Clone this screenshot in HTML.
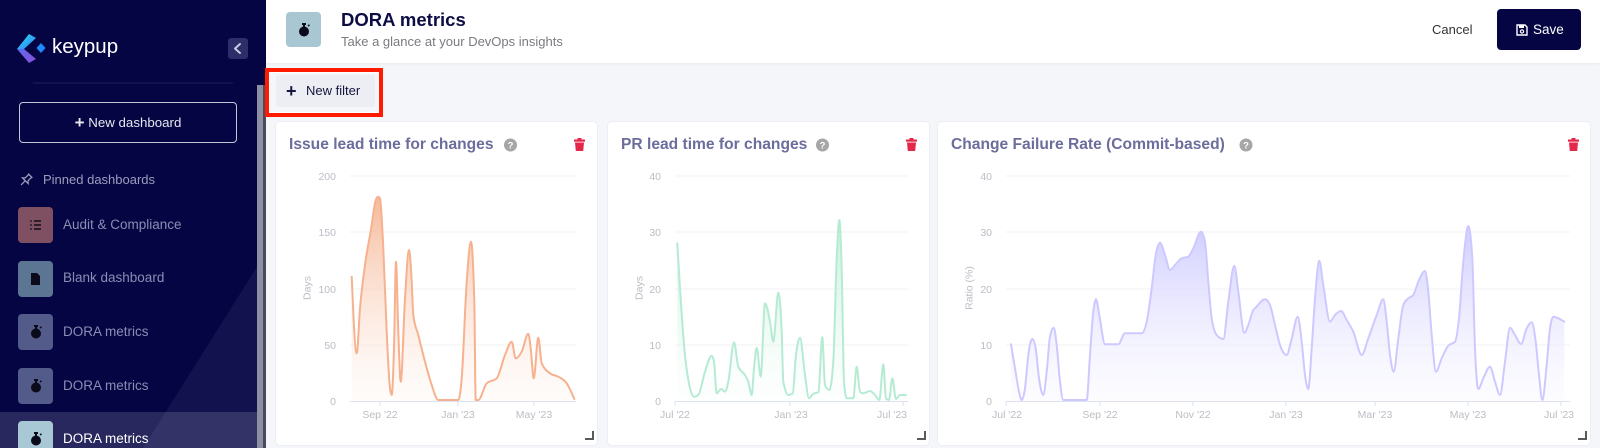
<!DOCTYPE html>
<html><head><meta charset="utf-8">
<style>
*{margin:0;padding:0;box-sizing:border-box}
html,body{width:1600px;height:448px;overflow:hidden;background:#f5f6f9;font-family:"Liberation Sans",Arial,sans-serif}
.abs{position:absolute}
#side{left:0;top:0;width:266px;height:448px;background:#050544;overflow:hidden}
.item{position:absolute;left:63px;font-size:13.5px;color:#8b8db3;white-space:nowrap;line-height:16px}
.ibox{position:absolute;left:18px;width:35px;height:36px;border-radius:4px}
.card{position:absolute;top:122px;height:323px;background:#fff;border-radius:4px;box-shadow:0 0 0 1px #eceef3}
.ctitle{position:absolute;top:135px;height:20px;line-height:20px;font-size:15.6px;font-weight:bold;color:#6c6d9c;white-space:nowrap}
.handle{position:absolute;width:9px;height:9px;border-right:2px solid #5a5a5a;border-bottom:2px solid #5a5a5a}
</style></head><body>

<div id="side" class="abs">
  <svg class="abs" style="left:0;top:0" width="266" height="448">
    <polygon points="257,267 257,448 143,448" fill="#ffffff" fill-opacity="0.055"/>
    <rect x="0" y="412" width="257" height="36" fill="#ffffff" fill-opacity="0.14"/>
    <rect x="257" y="85" width="6" height="363" fill="#8f8fa3"/>
    <rect x="263" y="85" width="3" height="363" fill="#4a4a5c"/>
    <line x1="33" y1="83" x2="233" y2="83" stroke="#1d1e5c" stroke-width="1"/>
    <defs>
      <linearGradient id="lg1" x1="0" y1="0" x2="1" y2="1"><stop offset="0" stop-color="#32e0f0"/><stop offset="1" stop-color="#2a7cf5"/></linearGradient>
      <linearGradient id="lg2" x1="0" y1="0" x2="1" y2="1"><stop offset="0" stop-color="#5b6cf0"/><stop offset="1" stop-color="#8a4fd8"/></linearGradient>
    </defs>
    <polygon points="29,34 36,38 24,49 17,49" fill="url(#lg1)"/>
    <polygon points="17,49 24,49 36,59 29,63" fill="url(#lg2)"/>
    <polygon points="41,43 45.5,48 41,53 36.5,48" fill="#1e8cff"/>
    <rect x="228" y="38" width="20" height="21" rx="3" fill="#2c2e6a"/>
    <polyline points="240,44 235,48.5 240,53" fill="none" stroke="#c9cadf" stroke-width="2" stroke-linecap="round" stroke-linejoin="round"/>
    <g transform="translate(26,180) rotate(45)" fill="none" stroke="#9a9bba" stroke-width="1.3">
      <path d="M-3,-6 L3,-6 M-2,-6 L-2,-1 L-4,1 L4,1 L2,-1 L2,-6 M0,1 L0,7"/>
    </g>
  </svg>
  <div class="abs" style="left:52px;top:35px;font-size:20.5px;color:#fff;line-height:24px">keypup</div>
  <div class="abs" style="left:19px;top:102px;width:218px;height:41px;border:1.5px solid #c5c6d4;border-radius:4px;color:#e6e6ef;font-size:13.3px;line-height:38px;text-align:center"><span style="font-size:17px;font-weight:bold;position:relative;top:1px">+</span>&nbsp;New dashboard</div>
  <div class="item" style="left:43px;top:172px;color:#9c9dbc;font-size:13px">Pinned dashboards</div>

  <div class="ibox" style="top:207px;background:#7f5062"></div>
  <svg class="abs" style="left:30px;top:219px" width="12" height="12"><g stroke="#1a1020" stroke-width="1.6"><line x1="4" y1="2" x2="11" y2="2"/><line x1="4" y1="6" x2="11" y2="6"/><line x1="4" y1="10" x2="11" y2="10"/></g><g stroke="#1a1020" stroke-width="1.2"><line x1="0" y1="2" x2="2" y2="2"/><line x1="0" y1="6" x2="2" y2="6"/><line x1="0" y1="10" x2="2" y2="10"/></g></svg>
  <div class="item" style="top:217px">Audit &amp; Compliance</div>

  <div class="ibox" style="top:261px;background:#5b7592"></div>
  <svg class="abs" style="left:31px;top:273px" width="10" height="12"><path d="M0,0 H6 L9,3 V12 H0 Z" fill="#0a0a1a"/></svg>
  <div class="item" style="top:270px">Blank dashboard</div>

  <div class="ibox" style="top:314px;background:#525b89"></div>
  <svg class="abs" style="left:30px;top:325px" width="12" height="14"><rect x="4" y="0" width="4" height="2" fill="#0a0a1a"/><rect x="5" y="1" width="2" height="3" fill="#0a0a1a"/><circle cx="6" cy="8.5" r="5" fill="#0a0a1a"/><line x1="10" y1="3" x2="11.5" y2="1.8" stroke="#0a0a1a" stroke-width="1.5"/></svg>
  <div class="item" style="top:324px">DORA metrics</div>

  <div class="ibox" style="top:368px;background:#525b89"></div>
  <svg class="abs" style="left:30px;top:379px" width="12" height="14"><rect x="4" y="0" width="4" height="2" fill="#0a0a1a"/><rect x="5" y="1" width="2" height="3" fill="#0a0a1a"/><circle cx="6" cy="8.5" r="5" fill="#0a0a1a"/><line x1="10" y1="3" x2="11.5" y2="1.8" stroke="#0a0a1a" stroke-width="1.5"/></svg>
  <div class="item" style="top:378px">DORA metrics</div>

  <div class="ibox" style="top:421px;background:#a9c8d6"></div>
  <svg class="abs" style="left:30px;top:432px" width="12" height="14"><rect x="4" y="0" width="4" height="2" fill="#0a0a1a"/><rect x="5" y="1" width="2" height="3" fill="#0a0a1a"/><circle cx="6" cy="8.5" r="5" fill="#0a0a1a"/><line x1="10" y1="3" x2="11.5" y2="1.8" stroke="#0a0a1a" stroke-width="1.5"/></svg>
  <div class="item" style="top:431px;color:#ffffff">DORA metrics</div>
</div>

<div class="abs" style="left:266px;top:0;width:1334px;height:63px;background:#fff;box-shadow:0 1px 3px rgba(0,0,0,0.06)"></div>
<div class="abs" style="left:286px;top:12px;width:35px;height:35px;background:#a9c6d3;border-radius:4px"></div>
<svg class="abs" style="left:298px;top:23px" width="12" height="14"><rect x="4" y="0" width="4" height="2" fill="#0a0a1a"/><rect x="5" y="1" width="2" height="3" fill="#0a0a1a"/><circle cx="6" cy="8.5" r="5" fill="#0a0a1a"/><line x1="10" y1="3" x2="11.5" y2="1.8" stroke="#0a0a1a" stroke-width="1.5"/></svg>
<div class="abs" style="left:341px;top:9px;font-size:18.5px;font-weight:bold;color:#0d0d45;line-height:22px">DORA metrics</div>
<div class="abs" style="left:341px;top:34px;font-size:13px;color:#7a7a80;line-height:16px">Take a glance at your DevOps insights</div>
<div class="abs" style="left:1432px;top:22px;font-size:13px;color:#333338;line-height:16px">Cancel</div>
<div class="abs" style="left:1497px;top:9px;width:84px;height:41px;background:#050544;border-radius:4px"></div>
<svg class="abs" style="left:1516px;top:24px" width="12" height="12"><path d="M1,1 H9 L11,3 V11 H1 Z" fill="none" stroke="#fff" stroke-width="1.4"/><rect x="3" y="1" width="5" height="3" fill="#fff"/><circle cx="6" cy="7.5" r="1.6" fill="none" stroke="#fff" stroke-width="1.2"/></svg>
<div class="abs" style="left:1533px;top:22px;font-size:13.5px;color:#fff;line-height:16px">Save</div>

<div class="abs" style="left:276px;top:75px;width:99px;height:32px;background:#eceef3;border-radius:3px"></div>
<div class="abs" style="left:286px;top:81px;font-size:18px;font-weight:bold;color:#15153f;line-height:20px">+</div>
<div class="abs" style="left:306px;top:83px;font-size:13px;color:#15153f;line-height:16px">New filter</div>
<div class="abs" style="left:265px;top:68px;width:118px;height:49px;border:4px solid #ff1a00;box-shadow:inset 0 0 0 1px #fff"></div>

<div class="card" style="left:276px;width:321px"></div>
<div class="card" style="left:608px;width:321px"></div>
<div class="card" style="left:938px;width:652px"></div>
<div class="ctitle" style="left:289px">Issue lead time for changes</div>
<div class="ctitle" style="left:621px">PR lead time for changes</div>
<div class="ctitle" style="left:951px">Change Failure Rate (Commit-based)</div>
<div class="handle" style="left:585px;top:431px"></div>
<div class="handle" style="left:917px;top:431px"></div>
<div class="handle" style="left:1578px;top:431px"></div>

<svg class="abs" style="left:0;top:0" width="1600" height="448">
  <defs>
    <linearGradient id="gO" gradientUnits="userSpaceOnUse" x1="0" y1="190" x2="0" y2="401"><stop offset="0" stop-color="#f5ae88" stop-opacity="0.9"/><stop offset="1" stop-color="#fde9de" stop-opacity="0.15"/></linearGradient>
    <linearGradient id="gG" gradientUnits="userSpaceOnUse" x1="0" y1="215" x2="0" y2="401"><stop offset="0" stop-color="#b8edd5" stop-opacity="0.9"/><stop offset="1" stop-color="#eefaf4" stop-opacity="0.1"/></linearGradient>
    <linearGradient id="gP" gradientUnits="userSpaceOnUse" x1="0" y1="226" x2="0" y2="401"><stop offset="0" stop-color="#d0cdff" stop-opacity="1"/><stop offset="1" stop-color="#f6f5ff" stop-opacity="0.3"/></linearGradient>
    <g id="trash"><rect x="0" y="1.5" width="11" height="2.2" fill="#e4284b"/><rect x="3.5" y="0" width="4" height="2" fill="#e4284b"/><path d="M1,4.5 H10 L9.2,13 H1.8 Z" fill="#e4284b"/></g>
    <g id="help"><circle cx="0" cy="0" r="6.5" fill="#a6a6a6"/><text x="0" y="3.3" font-size="9.5" font-weight="bold" fill="#fff" text-anchor="middle" font-family="Liberation Sans, sans-serif">?</text></g>
  </defs>

  <use href="#trash" x="574" y="138"/>
  <use href="#trash" x="906" y="138"/>
  <use href="#trash" x="1568" y="138"/>
  <use href="#help" x="510.5" y="145"/>
  <use href="#help" x="822.5" y="145"/>
  <use href="#help" x="1246" y="145"/>

  <g font-family="Liberation Sans, sans-serif" font-size="10.5" fill="#bcbcc5">
    <g stroke="#f1f2f6" stroke-width="1">
      <line x1="350" y1="176" x2="576" y2="176"/><line x1="350" y1="232" x2="576" y2="232"/><line x1="350" y1="289" x2="576" y2="289"/><line x1="350" y1="345" x2="576" y2="345"/>
      <line x1="675" y1="176" x2="908" y2="176"/><line x1="675" y1="232" x2="908" y2="232"/><line x1="675" y1="289" x2="908" y2="289"/><line x1="675" y1="345" x2="908" y2="345"/>
      <line x1="1006" y1="176" x2="1570" y2="176"/><line x1="1006" y1="232" x2="1570" y2="232"/><line x1="1006" y1="289" x2="1570" y2="289"/><line x1="1006" y1="345" x2="1570" y2="345"/>
    </g>
    <g text-anchor="end">
      <text x="336" y="180">200</text><text x="336" y="236">150</text><text x="336" y="293">100</text><text x="336" y="349">50</text><text x="336" y="405">0</text>
      <text x="661" y="180">40</text><text x="661" y="236">30</text><text x="661" y="293">20</text><text x="661" y="349">10</text><text x="661" y="405">0</text>
      <text x="992" y="180">40</text><text x="992" y="236">30</text><text x="992" y="293">20</text><text x="992" y="349">10</text><text x="992" y="405">0</text>
    </g>
    <text transform="translate(310.5,288) rotate(-90)" text-anchor="middle">Days</text>
    <text transform="translate(642.5,288) rotate(-90)" text-anchor="middle">Days</text>
    <text transform="translate(972.5,288) rotate(-90)" text-anchor="middle">Ratio (%)</text>

    <polygon class="smf" fill="url(#gO)" points="351.7,401 351.7,276.7 356.7,353.3 360,308.3 365,265 371.7,225 375,203 377.7,196.7 380,198.3 383.3,248.3 386.7,331.7 390,388.3 391.7,395 394,348.3 396,261.7 398.3,331.7 400.7,381.7 405,298.3 409,250 411.7,281.7 413.3,315 418.3,335 425,361.7 431.7,385 438.3,400 458.3,400 461.7,378.3 466.7,281.7 471,241.7 474.3,301.7 475.7,400 478.3,400 486.7,383.3 496.7,378.3 505,355 511.7,341.7 515.7,358.3 521.7,351.7 528.3,333.7 530.7,348.3 533.7,378.3 538.3,337.7 541.7,363.3 550,373.3 558.3,376.7 566.7,383.3 574.3,399 574.3,401"/>
    <polyline class="sm" fill="none" stroke="#f6b18e" stroke-width="2" stroke-linejoin="round" points="351.7,276.7 356.7,353.3 360,308.3 365,265 371.7,225 375,203 377.7,196.7 380,198.3 383.3,248.3 386.7,331.7 390,388.3 391.7,395 394,348.3 396,261.7 398.3,331.7 400.7,381.7 405,298.3 409,250 411.7,281.7 413.3,315 418.3,335 425,361.7 431.7,385 438.3,400 458.3,400 461.7,378.3 466.7,281.7 471,241.7 474.3,301.7 475.7,400 478.3,400 486.7,383.3 496.7,378.3 505,355 511.7,341.7 515.7,358.3 521.7,351.7 528.3,333.7 530.7,348.3 533.7,378.3 538.3,337.7 541.7,363.3 550,373.3 558.3,376.7 566.7,383.3 574.3,399"/>

    <polygon class="smf" fill="url(#gG)" points="677.3,401 677.3,243.3 680,288.3 684.3,348.3 689.3,385 694,396.7 698.3,395 705,371.7 711.7,355.7 714,361.7 716.7,393.3 721,389 725,391.7 728.3,381.7 734,342.3 738.3,366.7 745,375 748.3,381.7 751.7,395 754,368.3 756.7,347.7 760.7,376.7 765,303.3 770,321.7 773.3,341.7 778.3,292.7 781.7,331.7 783.3,381.7 788.3,395 792.7,393.3 796,355 800,337.7 805,375 809,398.3 813.3,393.7 818.3,392.3 822.3,337.3 825,385 829.3,390 833.3,361.7 836.7,258.3 839.3,220 841.7,268.3 844,381.7 846.7,398.3 853.3,398.3 856.7,366.7 860,391.7 863.3,393.3 870,391 875,395 879.3,400 883.3,364.3 886,398.3 889,400 892.3,378.3 896,399 900,395 906,395 906,401"/>
    <polyline class="sm" fill="none" stroke="#b6ebd3" stroke-width="2" stroke-linejoin="round" points="677.3,243.3 680,288.3 684.3,348.3 689.3,385 694,396.7 698.3,395 705,371.7 711.7,355.7 714,361.7 716.7,393.3 721,389 725,391.7 728.3,381.7 734,342.3 738.3,366.7 745,375 748.3,381.7 751.7,395 754,368.3 756.7,347.7 760.7,376.7 765,303.3 770,321.7 773.3,341.7 778.3,292.7 781.7,331.7 783.3,381.7 788.3,395 792.7,393.3 796,355 800,337.7 805,375 809,398.3 813.3,393.7 818.3,392.3 822.3,337.3 825,385 829.3,390 833.3,361.7 836.7,258.3 839.3,220 841.7,268.3 844,381.7 846.7,398.3 853.3,398.3 856.7,366.7 860,391.7 863.3,393.3 870,391 875,395 879.3,400 883.3,364.3 886,398.3 889,400 892.3,378.3 896,399 900,395 906,395"/>

    <polygon class="smf" fill="url(#gP)" points="1011,401 1011,344.3 1015,368.3 1019,391.7 1021.7,400 1025,388.3 1028.3,355 1032.3,339 1035.7,348.3 1039,378.3 1043.3,395 1046.7,371.7 1050,336.7 1053.7,327.7 1056.7,345 1060,381.7 1063.3,400 1086.7,400 1090,355 1093.3,311.7 1096,299.3 1099.3,315 1105,344.3 1118.3,344.3 1125,333.3 1141.7,333.3 1146.7,321.7 1151.7,288.3 1155.7,255 1160,242.7 1165,255 1170,270 1175,265 1181.7,258.3 1188.3,256.7 1193.3,248.3 1201,231.7 1205,241.7 1208.3,281.7 1211.7,318.3 1216.7,335 1223.3,339 1228.3,301.7 1234.3,265.7 1238.3,291.7 1244.3,332.7 1248.3,325 1253.3,310 1255,308.3 1265,299.3 1270,305 1275,325 1280,345 1286.7,355 1291,341.7 1297.7,316.7 1301.7,341.7 1305,375 1308.3,389 1311.7,348.3 1315,298.3 1319.3,260.7 1323.3,285 1330,321.7 1335,315 1341,311 1346.7,320 1353.3,331.7 1361.7,355 1368.3,338.3 1376.7,315 1383.3,299.3 1386.7,321.7 1390,355 1393.7,371.7 1398.3,338.3 1403.3,305 1408.3,298.3 1413.3,295 1418.3,281.7 1425,271 1428.3,291.7 1431.7,335 1436,371.7 1441.7,358.3 1448.3,345.7 1455,341.7 1459,318.3 1463.3,261.7 1468.3,226 1472.3,258.3 1475,348.3 1478.3,389 1483.3,378.3 1490,366.7 1495,381.7 1500,395 1505,361.7 1510,327.7 1515,335 1521,344 1526.7,328.3 1531.7,322.3 1535.7,341.7 1539,375 1542.3,400 1546.7,365 1550,328.3 1553.3,316.7 1558.3,318.3 1564.3,321.7 1564.3,401"/>
    <polyline class="sm" fill="none" stroke="#cdc9ff" stroke-width="2" stroke-linejoin="round" points="1011,344.3 1015,368.3 1019,391.7 1021.7,400 1025,388.3 1028.3,355 1032.3,339 1035.7,348.3 1039,378.3 1043.3,395 1046.7,371.7 1050,336.7 1053.7,327.7 1056.7,345 1060,381.7 1063.3,400 1086.7,400 1090,355 1093.3,311.7 1096,299.3 1099.3,315 1105,344.3 1118.3,344.3 1125,333.3 1141.7,333.3 1146.7,321.7 1151.7,288.3 1155.7,255 1160,242.7 1165,255 1170,270 1175,265 1181.7,258.3 1188.3,256.7 1193.3,248.3 1201,231.7 1205,241.7 1208.3,281.7 1211.7,318.3 1216.7,335 1223.3,339 1228.3,301.7 1234.3,265.7 1238.3,291.7 1244.3,332.7 1248.3,325 1253.3,310 1255,308.3 1265,299.3 1270,305 1275,325 1280,345 1286.7,355 1291,341.7 1297.7,316.7 1301.7,341.7 1305,375 1308.3,389 1311.7,348.3 1315,298.3 1319.3,260.7 1323.3,285 1330,321.7 1335,315 1341,311 1346.7,320 1353.3,331.7 1361.7,355 1368.3,338.3 1376.7,315 1383.3,299.3 1386.7,321.7 1390,355 1393.7,371.7 1398.3,338.3 1403.3,305 1408.3,298.3 1413.3,295 1418.3,281.7 1425,271 1428.3,291.7 1431.7,335 1436,371.7 1441.7,358.3 1448.3,345.7 1455,341.7 1459,318.3 1463.3,261.7 1468.3,226 1472.3,258.3 1475,348.3 1478.3,389 1483.3,378.3 1490,366.7 1495,381.7 1500,395 1505,361.7 1510,327.7 1515,335 1521,344 1526.7,328.3 1531.7,322.3 1535.7,341.7 1539,375 1542.3,400 1546.7,365 1550,328.3 1553.3,316.7 1558.3,318.3 1564.3,321.7"/>

    <g stroke="#dde1f2" stroke-width="1">
      <line x1="350" y1="401.5" x2="576" y2="401.5"/>
      <line x1="380" y1="401" x2="380" y2="406"/><line x1="458" y1="401" x2="458" y2="406"/><line x1="534" y1="401" x2="534" y2="406"/>
      <line x1="675" y1="401.5" x2="908" y2="401.5"/>
      <line x1="675" y1="401" x2="675" y2="406"/><line x1="790" y1="401" x2="790" y2="406"/><line x1="903" y1="401" x2="903" y2="406"/>
      <line x1="1006" y1="401.5" x2="1570" y2="401.5"/>
      <line x1="1006" y1="401" x2="1006" y2="406"/><line x1="1100" y1="401" x2="1100" y2="406"/><line x1="1193" y1="401" x2="1193" y2="406"/><line x1="1286" y1="401" x2="1286" y2="406"/><line x1="1375" y1="401" x2="1375" y2="406"/><line x1="1468" y1="401" x2="1468" y2="406"/><line x1="1561" y1="401" x2="1561" y2="406"/>
    </g>
    <g text-anchor="middle">
      <text x="380" y="418">Sep '22</text><text x="458" y="418">Jan '23</text><text x="534" y="418">May '23</text>
      <text x="675" y="418">Jul '22</text><text x="791" y="418">Jan '23</text><text x="892" y="418">Jul '23</text>
      <text x="1007" y="418">Jul '22</text><text x="1100" y="418">Sep '22</text><text x="1193" y="418">Nov '22</text><text x="1286" y="418">Jan '23</text><text x="1375" y="418">Mar '23</text><text x="1468" y="418">May '23</text><text x="1559" y="418">Jul '23</text>
    </g>
  </g>
</svg>
<script>
(function(){
  var NS="http://www.w3.org/2000/svg";
  function parse(s){return s.trim().split(/\s+/).map(function(p){var a=p.split(',');return [parseFloat(a[0]),parseFloat(a[1])];});}
  function sign(v){return v<0?-1:1;}
  function mono(P){
    var n=P.length,t=new Array(n),i;
    for(i=1;i<n-1;i++){
      var h0=P[i][0]-P[i-1][0],h1=P[i+1][0]-P[i][0];
      var s0=h0?(P[i][1]-P[i-1][1])/h0:0,s1=h1?(P[i+1][1]-P[i][1])/h1:0;
      var p=(h0+h1)?(s0*h1+s1*h0)/(h0+h1):0;
      t[i]=(sign(s0)+sign(s1))*Math.min(Math.abs(s0),Math.abs(s1),0.5*Math.abs(p))||0;
    }
    function end(a,b,tt){var h=b[0]-a[0];return h?(3*(b[1]-a[1])/h-tt)/2:tt;}
    t[0]=n>2?end(P[0],P[1],t[1]):0;
    t[n-1]=n>2?end(P[n-2],P[n-1],t[n-2]):0;
    var d="M"+P[0][0]+","+P[0][1];
    for(i=0;i<n-1;i++){
      var x0=P[i][0],y0=P[i][1],x1=P[i+1][0],y1=P[i+1][1],dx=(x1-x0)/3;
      d+=" C"+(x0+dx).toFixed(2)+","+(y0+dx*t[i]).toFixed(2)+" "+(x1-dx).toFixed(2)+","+(y1-dx*t[i+1]).toFixed(2)+" "+x1+","+y1;
    }
    return d;
  }
  function copy(src,dst,attrs){attrs.forEach(function(a){var v=src.getAttribute(a);if(v!==null)dst.setAttribute(a,v);});}
  try{
    Array.prototype.slice.call(document.querySelectorAll('polyline.sm')).forEach(function(el){
      var P=parse(el.getAttribute('points'));
      var path=document.createElementNS(NS,'path');
      copy(el,path,['fill','stroke','stroke-width','stroke-linejoin']);
      path.setAttribute('stroke-linecap','round');
      path.setAttribute('d',mono(P));
      el.parentNode.replaceChild(path,el);
    });
    Array.prototype.slice.call(document.querySelectorAll('polygon.smf')).forEach(function(el){
      var P=parse(el.getAttribute('points'));
      var first=P[0],last=P[P.length-1];
      var L=P.slice(1,P.length-1);
      var path=document.createElementNS(NS,'path');
      copy(el,path,['fill']);
      path.setAttribute('d',mono(L)+" L"+last[0]+","+last[1]+" L"+first[0]+","+first[1]+" Z");
      el.parentNode.replaceChild(path,el);
    });
  }catch(e){}
})();
</script>
</body></html>
